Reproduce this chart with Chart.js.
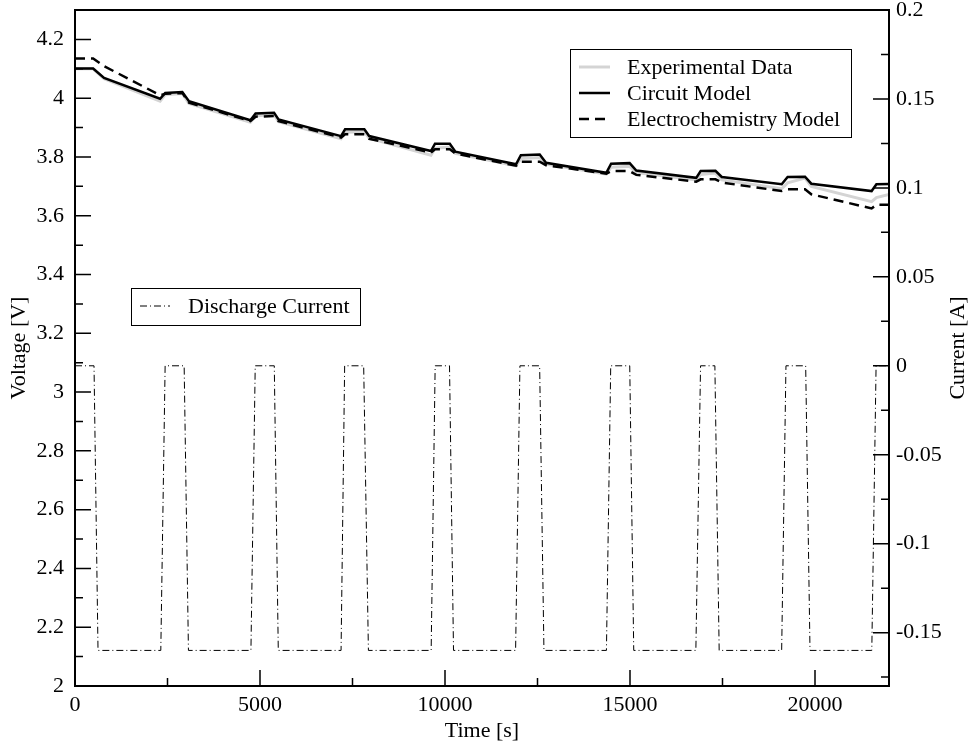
<!DOCTYPE html>
<html>
<head>
<meta charset="utf-8">
<script src="https://cdn.jsdelivr.net/npm/chart.js@4.4.0/dist/chart.umd.min.js"></script>
<style>
  body { margin: 0; background: #fff; }
  canvas { display: block; }
</style>
</head>
<body>
<canvas id="chart" width="973" height="746"></canvas>
<script>
// tick labels
const timeTicks = [0, 5000, 10000, 15000, 20000];
const voltTicks = [2, 2.2, 2.4, 2.6, 2.8, 3, 3.2, 3.4, 3.6, 3.8, 4, 4.2];
const currentTicks = [-0.15, -0.1, -0.05, 0, 0.05, 0.1, 0.15, 0.2];

// voltage series (s, V)
const modelTime = [0, 490, 785, 2300, 2440, 2900, 3080, 4740, 4880, 5380, 5500, 7190, 7300, 7820, 7950,
  9620, 9730, 10130, 10280, 11920, 12050, 12560, 12730, 14360, 14490, 14990, 15170, 16790, 16910,
  17310, 17480, 19100, 19260, 19730, 19900, 21530, 21660, 22000];
const circuitVolt = [4.101, 4.101, 4.069, 3.998, 4.018, 4.021, 3.99, 3.925, 3.948, 3.95, 3.928, 3.871, 3.894, 3.894, 3.871,
  3.820, 3.845, 3.845, 3.818, 3.775, 3.806, 3.808, 3.780, 3.746, 3.777, 3.779, 3.754, 3.729, 3.752,
  3.753, 3.732, 3.707, 3.732, 3.733, 3.709, 3.684, 3.707, 3.708];
const electroVolt = [4.135, 4.135, 4.109, 4.010, 4.015, 4.018, 3.985, 3.922, 3.937, 3.939, 3.922, 3.866, 3.877, 3.877, 3.862,
  3.815, 3.826, 3.826, 3.812, 3.770, 3.784, 3.784, 3.772, 3.743, 3.752, 3.752, 3.739, 3.716, 3.724,
  3.724, 3.713, 3.684, 3.690, 3.690, 3.673, 3.625, 3.637, 3.637];
const expVolt = [4.100, 4.100, 4.066, 3.990, 4.012, 4.016, 3.982, 3.918, 3.940, 3.944, 3.920, 3.862, 3.884, 3.886, 3.864,
  3.806, 3.830, 3.834, 3.812, 3.770, 3.795, 3.798, 3.776, 3.742, 3.765, 3.768, 3.747, 3.722, 3.740,
  3.745, 3.722, 3.692, 3.712, 3.728, 3.700, 3.648, 3.662, 3.672];

// discharge current (s, A)
const currentTime = [0, 514, 622, 2319, 2436, 2950, 3066, 4755, 4871, 5386, 5494, 7191, 7288, 7802, 7930,
  9626, 9734, 10122, 10230, 11908, 12025, 12558, 12674, 14363, 14479, 14993, 15101, 16780, 16907,
  17294, 17410, 19099, 19215, 19748, 19865, 21535, 21651, 22000];
const currentAmp = [0, 0, -0.16, -0.16, 0, 0, -0.16, -0.16, 0, 0, -0.16, -0.16, 0, 0, -0.16,
  -0.16, 0, 0, -0.16, -0.16, 0, 0, -0.16, -0.16, 0, 0, -0.16, -0.16, 0,
  0, -0.16, -0.16, 0, 0, -0.16, -0.16, 0, 0];

const FONT = 'Liberation Serif, Times New Roman, serif';
const FONT_SIZE = 22;

function pts(xs, ys) {
  return xs.map((x, i) => ({ x: x, y: ys[i] }));
}

function minors(ticks, min, max) {
  const step = ticks[1] - ticks[0];
  const out = [ticks[0] - step / 2];
  ticks.forEach(t => out.push(t + step / 2));
  return out.filter(v => v > min + 1e-9 && v < max - 1e-9);
}

function drawLegendBox(ctx, box, rows, datasets) {
  ctx.lineWidth = 1;
  ctx.strokeStyle = '#000';
  ctx.setLineDash([]);
  ctx.strokeRect(box.x + 0.5, box.y + 0.5, box.w, box.h);
  rows.forEach(r => {
    const ds = datasets[r.index];
    ctx.save();
    ctx.strokeStyle = ds.borderColor;
    ctx.lineWidth = ds.borderWidth;
    ctx.setLineDash(ds.borderDash || []);
    ctx.beginPath();
    ctx.moveTo(r.x0, r.y);
    ctx.lineTo(r.x1, r.y);
    ctx.stroke();
    ctx.restore();
    ctx.fillStyle = '#000';
    ctx.font = FONT_SIZE + 'px ' + FONT;
    ctx.textBaseline = 'middle';
    ctx.textAlign = 'left';
    ctx.fillText(ds.label, r.tx, r.y + 1);
  });
}

const frameAndTicks = {
  id: 'frameAndTicks',
  afterDatasetsDraw(chart) {
    const { ctx, chartArea: a, scales } = chart;
    ctx.save();
    ctx.strokeStyle = '#000';
    ctx.lineWidth = 1.5;
    ctx.beginPath();
    const xs = scales.x, yl = scales.yVolt, yr = scales.yCurrent;
    timeTicks.forEach(v => { const p = xs.getPixelForValue(v); ctx.moveTo(p, a.bottom); ctx.lineTo(p, a.bottom - 16); });
    minors(timeTicks, xs.min, xs.max).forEach(v => { const p = xs.getPixelForValue(v); ctx.moveTo(p, a.bottom); ctx.lineTo(p, a.bottom - 8); });
    voltTicks.forEach(v => { const p = yl.getPixelForValue(v); ctx.moveTo(a.left, p); ctx.lineTo(a.left + 16, p); });
    minors(voltTicks, yl.min, yl.max).forEach(v => { const p = yl.getPixelForValue(v); ctx.moveTo(a.left, p); ctx.lineTo(a.left + 8, p); });
    currentTicks.forEach(v => { const p = yr.getPixelForValue(v); ctx.moveTo(a.right, p); ctx.lineTo(a.right - 16, p); });
    minors(currentTicks, yr.min, yr.max).forEach(v => { const p = yr.getPixelForValue(v); ctx.moveTo(a.right, p); ctx.lineTo(a.right - 8, p); });
    ctx.stroke();

    ctx.lineWidth = 2;
    ctx.strokeRect(a.left, a.top, a.right - a.left, a.bottom - a.top);

    // right axis title reads bottom-to-top like the left one
    ctx.save();
    ctx.translate(yr.right - 15, (a.top + a.bottom) / 2);
    ctx.rotate(-Math.PI / 2);
    ctx.fillStyle = '#000';
    ctx.font = FONT_SIZE + 'px ' + FONT;
    ctx.textAlign = 'center';
    ctx.textBaseline = 'middle';
    ctx.fillText('Current [A]', 0, 0);
    ctx.restore();

    const ds = chart.data.datasets;
    drawLegendBox(ctx, { x: 570, y: 49, w: 281, h: 88 }, [
      { index: 2, y: 67, x0: 579, x1: 610, tx: 627 },
      { index: 0, y: 93, x0: 579, x1: 610, tx: 627 },
      { index: 1, y: 119, x0: 579, x1: 610, tx: 627 }
    ], ds);
    drawLegendBox(ctx, { x: 131, y: 288, w: 229, h: 37 }, [
      { index: 3, y: 306, x0: 140, x1: 170, tx: 188 }
    ], ds);
    ctx.restore();
  }
};

const tickFont = { family: FONT, size: FONT_SIZE };

new Chart(document.getElementById('chart'), {
  type: 'line',
  data: {
    datasets: [
      { label: 'Circuit Model', data: pts(modelTime, circuitVolt), yAxisID: 'yVolt',
        borderColor: '#000', borderWidth: 2.5, order: 0 },
      { label: 'Electrochemistry Model', data: pts(modelTime, electroVolt), yAxisID: 'yVolt',
        borderColor: '#000', borderWidth: 2.5, borderDash: [10, 6], order: 1 },
      { label: 'Experimental Data', data: pts(modelTime, expVolt), yAxisID: 'yVolt',
        borderColor: '#d4d4d4', borderWidth: 3, order: 2 },
      { label: 'Discharge Current', data: pts(currentTime, currentAmp), yAxisID: 'yCurrent',
        borderColor: '#000', borderWidth: 1, borderDash: [7, 3, 1, 3], order: 3 }
    ]
  },
  options: {
    responsive: false,
    animation: false,
    events: [],
    elements: { point: { radius: 0 }, line: { tension: 0 } },
    layout: { padding: { top: 10 } },
    plugins: { legend: { display: false }, tooltip: { enabled: false } },
    scales: {
      x: {
        type: 'linear', min: 0, max: 22000,
        afterBuildTicks: s => { s.ticks = timeTicks.map(v => ({ value: v })); },
        afterFit: s => { s.height = 60; s.paddingLeft = 0; s.paddingRight = 0; },
        grid: { display: false, drawTicks: false },
        border: { display: false },
        ticks: { font: tickFont, color: '#000', padding: 6, maxRotation: 0, callback: v => String(v) },
        title: { display: true, text: 'Time [s]', font: tickFont, color: '#000', padding: { top: 0, bottom: 2 } }
      },
      yVolt: {
        type: 'linear', position: 'left', min: 2, max: 4.3,
        afterBuildTicks: s => { s.ticks = voltTicks.map(v => ({ value: v })); },
        afterFit: s => { s.width = 75; s.paddingTop = 0; s.paddingBottom = 0; },
        grid: { display: false, drawTicks: false },
        border: { display: false },
        ticks: { font: tickFont, color: '#000', padding: 11, callback: v => String(v) },
        title: { display: true, text: 'Voltage [V]', font: tickFont, color: '#000', padding: { top: 6, bottom: 0 } }
      },
      yCurrent: {
        type: 'linear', position: 'right', min: -0.18, max: 0.2,
        afterBuildTicks: s => { s.ticks = currentTicks.map(v => ({ value: v })); },
        afterFit: s => { s.width = 84; s.paddingTop = 0; s.paddingBottom = 0; },
        grid: { display: false, drawTicks: false },
        border: { display: false },
        ticks: { font: tickFont, color: '#000', padding: 7, callback: v => String(v) },
        title: { display: false }
      }
    }
  },
  plugins: [frameAndTicks]
});
</script>
</body>
</html>
